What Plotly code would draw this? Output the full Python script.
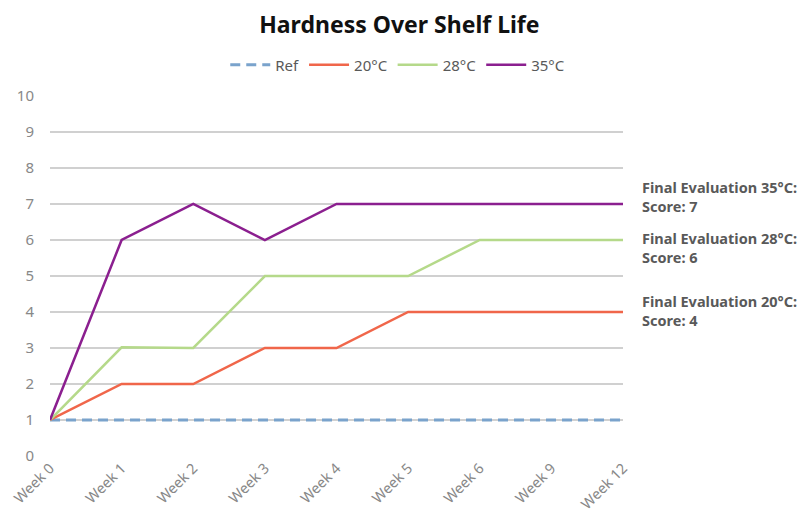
import plotly.graph_objects as go

weeks = ["Week 0", "Week 1", "Week 2", "Week 3", "Week 4", "Week 5", "Week 6", "Week 9", "Week 12"]
ref = [1, 1, 1, 1, 1, 1, 1, 1, 1]
t20 = [1, 2, 2, 3, 3, 4, 4, 4, 4]
t28 = [1, 3.02, 3, 5, 5, 5, 6, 6, 6]
t35 = [1, 6, 7, 6, 7, 7, 7, 7, 7]

labels = ["35°C", "28°C", "20°C"]
final_scores = [7, 6, 4]
label_y = [7.2, 5.8, 4.05]

FONT = "'Noto Sans', 'Open Sans', sans-serif"

fig = go.Figure()
fig.add_trace(go.Scatter(x=weeks, y=ref, name="Ref", mode="lines",
                         line=dict(color="#7aa3cc", width=3, dash="10px,6px")))
fig.add_trace(go.Scatter(x=weeks, y=t20, name="20°C", mode="lines",
                         line=dict(color="#f0664a", width=2.5)))
fig.add_trace(go.Scatter(x=weeks, y=t28, name="28°C", mode="lines",
                         line=dict(color="#b5d98a", width=2.5)))
fig.add_trace(go.Scatter(x=weeks, y=t35, name="35°C", mode="lines",
                         line=dict(color="#8b1f8f", width=2.5)))

# final evaluation notes on the right
for lab, sc, yy in zip(labels, final_scores, label_y):
    fig.add_annotation(
        xref="paper", x=1.029, y=yy, xanchor="left", yanchor="middle",
        text=f"<b>Final Evaluation {lab}:<br>Score: {sc}</b>",
        showarrow=False, align="left",
        font=dict(family=FONT, size=14.5, color="#595959"),
    )

# page body has an 8px margin, so margins are shifted to compensate
fig.update_layout(
    width=812, height=532,
    paper_bgcolor="white", plot_bgcolor="white",
    margin=dict(l=42, r=197, t=88, b=84, autoexpand=False),
    font=dict(family=FONT, color="#888888"),
    title=dict(text="<b>Hardness Over Shelf Life</b>", x=0.482, xref="container",
               xanchor="center", y=0.968, yanchor="middle",
               font=dict(family=FONT, size=23, color="#111111")),
    legend=dict(orientation="h", xref="container", x=0.48, xanchor="center",
                yref="container", y=0.893, yanchor="middle",
                font=dict(family=FONT, size=15, color="#595959"),
                itemwidth=40, tracegroupgap=0),
    showlegend=True,
)
fig.update_xaxes(type="category", range=[0, 8], showgrid=False, zeroline=False,
                 showline=False, tickangle=-45, ticks="", automargin=False,
                 tickfont=dict(family=FONT, size=14.5, color="#888888"))
fig.update_yaxes(range=[0, 10], dtick=1, showgrid=True, gridcolor="#d0d0d0",
                 gridwidth=1.5, zeroline=False, showline=False, ticks="",
                 automargin=False, ticklabelstandoff=15,
                 tickfont=dict(family=FONT, size=15, color="#888888"))

fig.write_html("out.html")
